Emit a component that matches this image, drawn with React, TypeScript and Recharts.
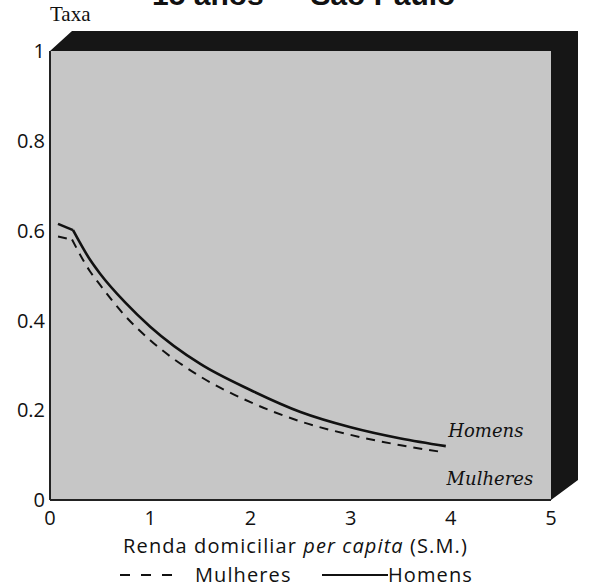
import React from 'react';
import { LineChart, Line, XAxis, YAxis, ReferenceArea, ReferenceDot, Legend } from 'recharts';

const homensX = [0.08, 0.23, 0.4, 0.5, 0.75, 1, 1.5, 2, 2.5, 3, 3.5, 3.95];
const homensY = [0.615, 0.601, 0.535, 0.504, 0.44, 0.386, 0.303, 0.245, 0.196, 0.162, 0.137, 0.12];
const mulheresX = [0.08, 0.22, 0.4, 0.5, 0.75, 1, 1.5, 2, 2.5, 3, 3.5, 3.88];
const mulheresY = [0.587, 0.58, 0.509, 0.479, 0.41, 0.356, 0.275, 0.218, 0.175, 0.145, 0.122, 0.108];
const xTicks = [0, 1, 2, 3, 4, 5];
const yTicks = [0, 0.2, 0.4, 0.6, 0.8, 1];
const seriesNames = ['Mulheres', 'Homens'];
const title = '15 anos — São Paulo';
const yLabel = 'Taxa';

const homensData = homensX.map((x, i) => ({ x, y: homensY[i] }));
const mulheresData = mulheresX.map((x, i) => ({ x, y: mulheresY[i] }));
// first segment (before the kink) is drawn straight, the rest smooth
const homensHead = homensData.slice(0, 2);
const homensTail = homensData.slice(1);
const mulheresHead = mulheresData.slice(0, 2);
const mulheresTail = mulheresData.slice(1);

const SANS = '"Open Sans", sans-serif';

const BoxShape = (props: any) => {
  const { x, y, width, height } = props;
  const x1 = x + width;
  const y1 = y + height;
  const back = `${x},${y} ${x + 22},${y - 20} ${x1 + 27},${y - 20} ${x1 + 27},${y1 - 20} ${x1},${y1} ${x1},${y}`;
  return (
    <g>
      <polygon points={back} fill="#161616" />
      <rect x={x} y={y} width={width} height={height} fill="#c6c6c6" />
    </g>
  );
};

const Annot = (text: string) => (props: any) => {
  const vb = props.viewBox || {};
  const cx = (vb.x || 0) + (vb.width || 0) / 2;
  const cy = (vb.y || 0) + (vb.height || 0) / 2;
  return (
    <text x={cx} y={cy} textAnchor="middle" fontFamily='"DejaVu Serif", serif' fontStyle="italic" fontSize={18} fill="#111">
      {text}
    </text>
  );
};

const XLabel = (props: any) => {
  const vb = props.viewBox || { x: 0, y: 0, width: 0 };
  return (
    <text x={vb.x + vb.width / 2 - 5} y={vb.y + 53} textAnchor="middle" fontFamily={SANS} fontSize={20} letterSpacing={1.1} fill="#111">
      Renda domiciliar <tspan fontStyle="italic">per capita</tspan> (S.M.)
    </text>
  );
};

const LegendContent = () => (
  <svg width={589} height={26} style={{ display: 'block' }}>
    <line x1={120} y1={14} x2={172} y2={14} stroke="#111" strokeWidth={2} strokeDasharray="10 11" />
    <text x={195} y={21} fontFamily={SANS} fontSize={20} letterSpacing={1.1} fill="#111">{seriesNames[0]}</text>
    <line x1={322} y1={14} x2={388} y2={14} stroke="#111" strokeWidth={2} />
    <text x={388} y={21} fontFamily={SANS} fontSize={20} letterSpacing={1.1} fill="#111">{seriesNames[1]}</text>
  </svg>
);

const tickStyle = { fontFamily: SANS, fontSize: 20, fill: '#111' };

export default function App() {
  return (
    <div style={{ position: 'absolute', left: 0, top: 0, width: 589, height: 587, background: '#fff', overflow: 'hidden' }}>
      <div style={{ position: 'absolute', left: 152, top: -20, fontFamily: '"Liberation Sans", Arial, sans-serif', fontWeight: 'bold', fontSize: 30, lineHeight: '30px', whiteSpace: 'pre', color: '#111' }}>
        {title}
      </div>
      <div style={{ position: 'absolute', left: 50, top: 2, fontFamily: '"Liberation Serif", serif', fontSize: 21, lineHeight: '24px', color: '#111' }}>
        {yLabel}
      </div>
      <LineChart width={589} height={587} margin={{ top: 51, right: 38, left: 0, bottom: 57 }}>
        <ReferenceArea x1={0} x2={5} y1={0} y2={1} shape={<BoxShape />} ifOverflow="visible" />
        <XAxis
          type="number"
          dataKey="x"
          domain={[0, 5]}
          ticks={xTicks}
          height={30}
          tickSize={0}
          tickMargin={11}
          axisLine={{ stroke: '#222', strokeWidth: 2 }}
          tick={tickStyle}
          label={<XLabel />}
          allowDataOverflow
        />
        <YAxis
          type="number"
          domain={[0, 1]}
          ticks={yTicks}
          width={50}
          tickSize={0}
          tickMargin={5}
          axisLine={{ stroke: '#222', strokeWidth: 2 }}
          tick={tickStyle}
          tickFormatter={(v: number) => (v === 0 ? '0' : v === 1 ? '1' : v.toFixed(1))}
          allowDataOverflow
        />
        <Line data={mulheresHead} dataKey="y" name={seriesNames[0]} legendType="none" type="linear" stroke="#111" strokeWidth={2} strokeDasharray="9 7" dot={false} isAnimationActive={false} />
        <Line data={mulheresTail} dataKey="y" name={seriesNames[0]} type="monotone" stroke="#111" strokeWidth={2} strokeDasharray="9 7" dot={false} isAnimationActive={false} />
        <Line data={homensHead} dataKey="y" name={seriesNames[1]} legendType="none" type="linear" stroke="#111" strokeWidth={2.6} dot={false} isAnimationActive={false} />
        <Line data={homensTail} dataKey="y" name={seriesNames[1]} type="monotone" stroke="#111" strokeWidth={2.6} dot={false} isAnimationActive={false} />
        <ReferenceDot x={4.35} y={0.14} r={0} fill="none" stroke="none" label={Annot(seriesNames[1])} ifOverflow="visible" />
        <ReferenceDot x={4.39} y={0.033} r={0} fill="none" stroke="none" label={Annot(seriesNames[0])} ifOverflow="visible" />
        <Legend
          layout="horizontal"
          verticalAlign="middle"
          align="center"
          content={<LegendContent />}
          wrapperStyle={{ top: 561, left: 0, width: 589, height: 26 }}
        />
      </LineChart>
    </div>
  );
}
